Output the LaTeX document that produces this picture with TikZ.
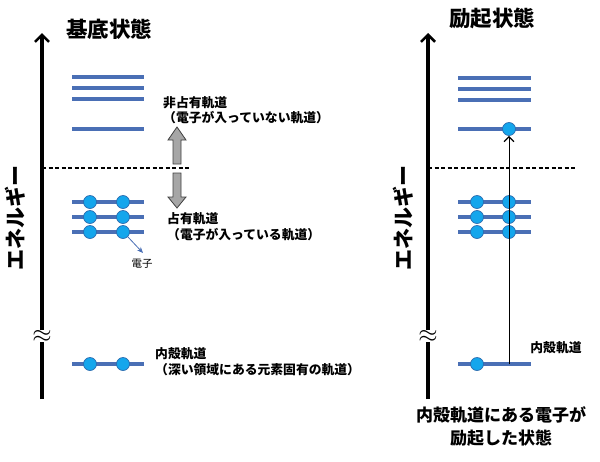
\documentclass[tikz,border=0pt]{standalone}
\usepackage{fontspec}
\setmainfont{Noto Sans CJK JP}
\usetikzlibrary{arrows.meta}
\definecolor{lvl}{HTML}{4A6FB5}
\definecolor{efill}{HTML}{14A6EC}
\definecolor{edraw}{HTML}{2C6DB0}
\definecolor{garrow}{HTML}{A6A6A6}
\tikzset{
  level/.style={draw=lvl, line width=4pt},
  elec/.style={circle, fill=efill, draw=edraw, line width=0.7pt, minimum size=13pt, inner sep=0pt},
  axisline/.style={line width=3.6pt, -{Straight Barb[length=7pt,width=14pt,line width=2.6pt]}},
  dashline/.style={line width=1.1pt, dash pattern=on 4pt off 2.5pt},
  title/.style={font=\fontsize{21.5}{23}\selectfont\bfseries},
  lab/.style={font=\fontsize{12.8}{14}\selectfont\bfseries, anchor=west, inner sep=0pt},
  axlab/.style={font=\fontsize{21}{22}\selectfont\bfseries, rotate=90},
  brk/.style={font=\fontsize{26}{26}\selectfont, fill=white, inner sep=0pt},
  garr/.style={fill=garrow, draw=black!75, line width=0.8pt},
  bottomlab/.style={font=\fontsize{17}{23}\selectfont\bfseries, align=center}
}
\begin{document}
\begin{tikzpicture}[x=1pt,y=-1pt]
\useasboundingbox (0,0) rectangle (600,461);
% ---------------- left panel ----------------
\coordinate (Lbot) at (42,399);
\coordinate (Ltop) at (42,33);
\draw[axisline] (Lbot) -- (Ltop);
\node[title] (t1) at (109,29) {基底状態};
\node[axlab] (e1) at (15,218) {エネルギー};
\node[brk] (b1) at (42,336) {$\approx$};
% unoccupied
\foreach \y in {77,88,99,129} \draw[level] (72,\y) -- (144,\y);
% dashed
\coordinate (Ld1) at (42,168);
\coordinate (Ld2) at (189,168);
\draw[dashline] (Ld1) -- (Ld2);
% occupied
\foreach \y/\n in {202/a,217/b,232/c}{
  \draw[level] (72,\y) -- (144,\y);
  \node[elec] (L\n1) at (90,\y) {};
  \node[elec] (L\n2) at (123,\y) {};
}
\node[font=\fontsize{10.5}{12}\selectfont, inner sep=0pt] (den) at (142,264) {電子};
\coordinate (dentip) at (143,253);
\draw[draw=lvl, line width=0.8pt, -{Stealth[length=6pt,width=5pt]}] (Lc2.south east) -- (dentip);
% inner shell
\draw[level] (72,364) -- (144,364);
\node[elec] (Li1) at (90,364) {};
\node[elec] (Li2) at (123,364) {};
% gray arrows
\draw[garr] (173,164) -- (181,164) -- (181,140) -- (186,140) -- (177,127) -- (168,140) -- (173,140) -- cycle;
\draw[garr] (173,173) -- (181,173) -- (181,197) -- (186,197) -- (177,208) -- (168,197) -- (173,197) -- cycle;
% labels
\node[lab] (u1) at (163,103) {非占有軌道};
\node[lab] (u2) at (163,118) {（電子が入っていない軌道）};
\node[lab] (o1) at (167,219) {占有軌道};
\node[lab] (o2) at (167,235) {（電子が入っている軌道）};
\node[lab] (i1) at (155,354) {内殻軌道};
\node[lab] (i2) at (155,370) {（深い領域にある元素固有の軌道）};
% ---------------- right panel ----------------
\coordinate (Rbot) at (428,399);
\coordinate (Rtop) at (428,33);
\draw[axisline] (Rbot) -- (Rtop);
\node[title] (t2) at (492,18) {励起状態};
\node[axlab] (e2) at (403,218) {エネルギー};
\node[brk] (b2) at (428,336) {$\approx$};
\foreach \y in {78,89,100,129} \draw[level] (458,\y) -- (531,\y);
\node[elec] (Rx) at (509,129) {};
\coordinate (Rd1) at (428,168);
\coordinate (Rd2) at (575,168);
\draw[dashline] (Rd1) -- (Rd2);
\foreach \y/\n in {202/a,217/b,232/c}{
  \draw[level] (458,\y) -- (531,\y);
  \node[elec] (R\n1) at (477,\y) {};
  \node[elec] (R\n2) at (509,\y) {};
}
\draw[level] (458,364) -- (531,364);
\node[elec] (Ri1) at (477,364) {};
\coordinate (Rstart) at (509,364);
\draw[line width=1pt, -{Straight Barb[length=5pt,width=10pt,line width=1.2pt]}] (Rstart) -- (Rx.south);
\node[font=\fontsize{12.8}{14}\selectfont\bfseries, inner sep=0pt] (i3) at (556,348) {内殻軌道};
\node[bottomlab] (bl) at (501,426) {内殻軌道にある電子が\\励起した状態};
\end{tikzpicture}
\end{document}
